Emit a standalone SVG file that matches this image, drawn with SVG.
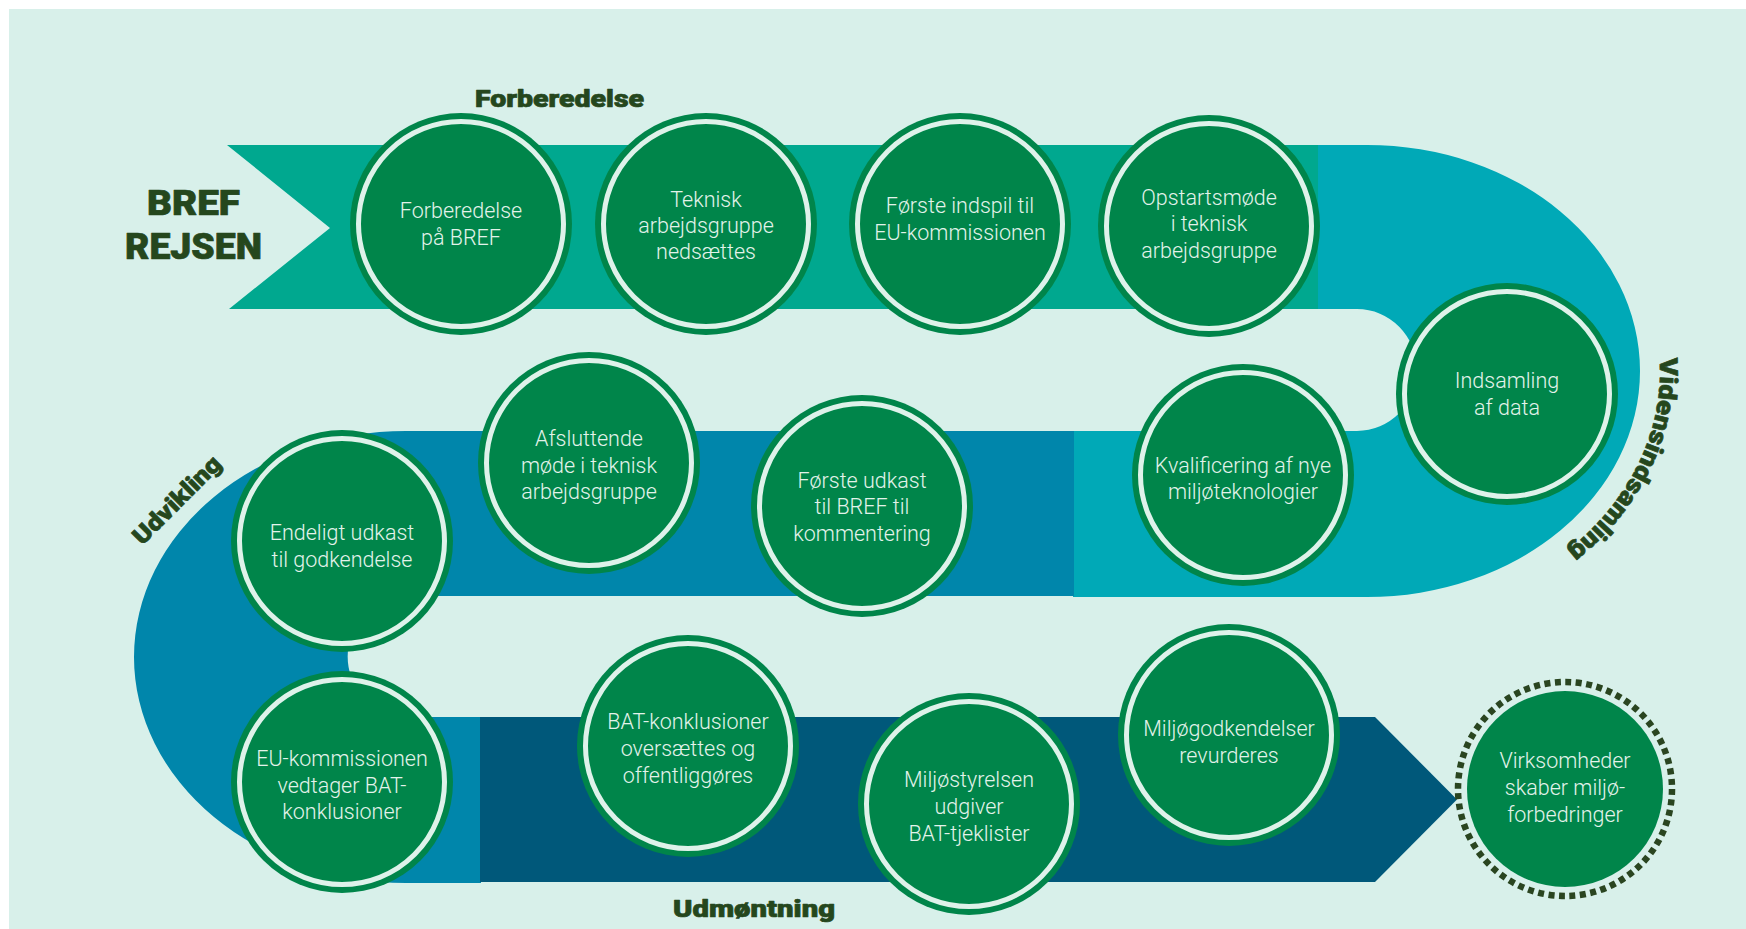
<svg xmlns="http://www.w3.org/2000/svg" width="1746" height="929" viewBox="0 0 1746 929">
<defs>
<style>
.outer{fill:#00854a}
.ring{fill:none;stroke:#def2ea;stroke-width:5}
.dots{fill:none;stroke:#2a4520;stroke-width:6.5;stroke-dasharray:6 4.5}
.lbl{font-family:Roboto,"Open Sans",sans-serif;font-weight:300;font-size:21.5px;fill:#e3f3ea;text-anchor:middle}
.head{font-family:Roboto,Lato,sans-serif;font-weight:900;fill:#25471d;stroke:#25471d;stroke-width:0.7;stroke-linejoin:round}
</style>
<path id="vpath" d="M 1659.6 358.1 A 293 246 0 0 1 1513.5 584"/>
</defs>
<rect x="0" y="0" width="1746" height="929" fill="#ffffff"/>
<rect x="9" y="9" width="1737" height="920" fill="#d8f0ea"/>

<g id="track">
  <path d="M 227 145 L 1319 145 L 1319 309 L 229 309 L 330 228 Z" fill="#00a88f"/>
  <path d="M 1318 145 L 1367 145 A 273 226 0 0 1 1367 597 L 1073 597 L 1073 431 L 1357 431 A 60 61 0 0 0 1357 309 L 1318 309 Z" fill="#00a9b7"/>
  <path d="M 1074 431 L 406 431 A 272 226 0 0 0 406 883 L 481 883 L 481 717 L 400 717 A 60 61 0 0 1 400 596 L 1074 596 Z" fill="#0086ab"/>
  <path d="M 480 717 L 1375 717 L 1457 799.5 L 1375 882 L 480 882 Z" fill="#00587a"/>
</g>

<g id="headings">
  <text class="head" x="147" y="215" font-size="35" textLength="93" lengthAdjust="spacingAndGlyphs">BREF</text>
  <text class="head" x="125" y="259" font-size="36" textLength="137" lengthAdjust="spacingAndGlyphs">REJSEN</text>
  <text class="head" x="475" y="107" font-size="24" textLength="169" lengthAdjust="spacingAndGlyphs">Forberedelse</text>
  <text class="head" x="673" y="917" font-size="24" textLength="162" lengthAdjust="spacingAndGlyphs">Udmøntning</text>
  <text class="head" font-size="24" transform="translate(177 500) rotate(-45)" x="-57" y="8" textLength="114" lengthAdjust="spacingAndGlyphs">Udvikling</text>
  <text class="head" font-size="25"><textPath href="#vpath" startOffset="0" textLength="222" lengthAdjust="spacingAndGlyphs">Vidensindsamling</textPath></text>
</g>

<g id="n1"><circle class="outer" cx="461" cy="224" r="111"/><circle class="ring" cx="461" cy="224" r="102.5"/>
<text class="lbl" x="461" y="218">Forberedelse</text><text class="lbl" x="461" y="245">på BREF</text></g>
<g id="n2"><circle class="outer" cx="706" cy="224" r="111"/><circle class="ring" cx="706" cy="224" r="102.5"/>
<text class="lbl" x="706" y="207">Teknisk</text><text class="lbl" x="706" y="233">arbejdsgruppe</text><text class="lbl" x="706" y="259">nedsættes</text></g>
<g id="n3"><circle class="outer" cx="960" cy="224" r="111"/><circle class="ring" cx="960" cy="224" r="102.5"/>
<text class="lbl" x="960" y="213">Første indspil til</text><text class="lbl" x="960" y="240">EU-kommissionen</text></g>
<g id="n4"><circle class="outer" cx="1209" cy="226" r="111"/><circle class="ring" cx="1209" cy="226" r="102.5"/>
<text class="lbl" x="1209" y="205">Opstartsmøde</text><text class="lbl" x="1209" y="231">i teknisk</text><text class="lbl" x="1209" y="258">arbejdsgruppe</text></g>
<g id="n5"><circle class="outer" cx="1507" cy="394" r="111"/><circle class="ring" cx="1507" cy="394" r="102.5"/>
<text class="lbl" x="1507" y="388">Indsamling</text><text class="lbl" x="1507" y="415">af data</text></g>
<g id="n6"><circle class="outer" cx="1243" cy="475" r="111"/><circle class="ring" cx="1243" cy="475" r="102.5"/>
<text class="lbl" x="1243" y="473">Kvalificering af nye</text><text class="lbl" x="1243" y="499">miljøteknologier</text></g>
<g id="n7"><circle class="outer" cx="862" cy="506" r="111"/><circle class="ring" cx="862" cy="506" r="102.5"/>
<text class="lbl" x="862" y="488">Første udkast</text><text class="lbl" x="862" y="514">til BREF til</text><text class="lbl" x="862" y="541">kommentering</text></g>
<g id="n8"><circle class="outer" cx="589" cy="463" r="111"/><circle class="ring" cx="589" cy="463" r="102.5"/>
<text class="lbl" x="589" y="446">Afsluttende</text><text class="lbl" x="589" y="473">møde i teknisk</text><text class="lbl" x="589" y="499">arbejdsgruppe</text></g>
<g id="n9"><circle class="outer" cx="342" cy="541" r="111"/><circle class="ring" cx="342" cy="541" r="102.5"/>
<text class="lbl" x="342" y="540">Endeligt udkast</text><text class="lbl" x="342" y="567">til godkendelse</text></g>
<g id="n10"><circle class="outer" cx="342" cy="782" r="111"/><circle class="ring" cx="342" cy="782" r="102.5"/>
<text class="lbl" x="342" y="766">EU-kommissionen</text><text class="lbl" x="342" y="793">vedtager BAT-</text><text class="lbl" x="342" y="819">konklusioner</text></g>
<g id="n11"><circle class="outer" cx="688" cy="746" r="111"/><circle class="ring" cx="688" cy="746" r="102.5"/>
<text class="lbl" x="688" y="729">BAT-konklusioner</text><text class="lbl" x="688" y="756">oversættes og</text><text class="lbl" x="688" y="783">offentliggøres</text></g>
<g id="n12"><circle class="outer" cx="969" cy="804" r="111"/><circle class="ring" cx="969" cy="804" r="102.5"/>
<text class="lbl" x="969" y="787">Miljøstyrelsen</text><text class="lbl" x="969" y="814">udgiver</text><text class="lbl" x="969" y="841">BAT-tjeklister</text></g>
<g id="n13"><circle class="outer" cx="1229" cy="735" r="111"/><circle class="ring" cx="1229" cy="735" r="102.5"/>
<text class="lbl" x="1229" y="736">Miljøgodkendelser</text><text class="lbl" x="1229" y="763">revurderes</text></g>
<g id="n14"><circle class="dots" cx="1565" cy="789" r="107"/><circle class="outer" cx="1565" cy="789" r="98"/>
<text class="lbl" x="1565" y="768">Virksomheder</text><text class="lbl" x="1565" y="795">skaber miljø-</text><text class="lbl" x="1565" y="822">forbedringer</text></g>
</svg>
